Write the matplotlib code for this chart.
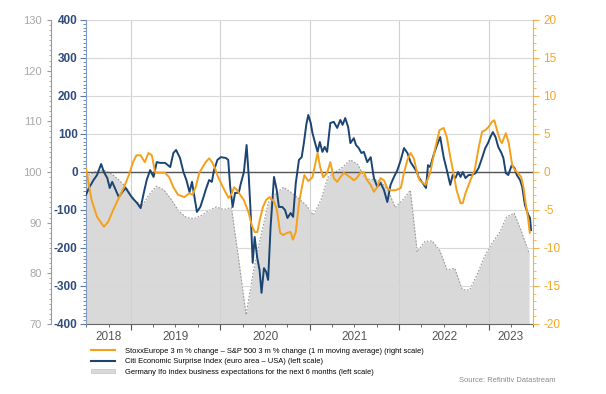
import matplotlib
matplotlib.use('Agg')
import numpy as np
import pandas as pd
import matplotlib.pyplot as plt
import matplotlib.dates as mdates
from matplotlib.lines import Line2D
from matplotlib.patches import Patch
from matplotlib.ticker import MultipleLocator

plt.rcParams['font.family'] = ['Liberation Sans', 'DejaVu Sans']
plt.rcParams['axes.unicode_minus'] = False

# Germany Ifo business expectations, monthly (outer left scale)
ifo_dates = pd.date_range('2018-06-01', '2023-06-01', freq='MS') + pd.Timedelta(days=14)
ifo_values = [98.9, 99.5, 100.2, 100.3, 99.6, 98.3, 96.8,
              94.5, 93.3, 95.5, 97.2, 96.5, 94.5, 92.3, 91.0, 90.8, 91.4, 92.4, 93.1,
              92.6, 93.0, 83.0, 71.8, 80.5, 87.5, 94.0, 95.8, 97.0, 96.0, 94.8, 93.5,
              91.5, 94.5, 99.0, 100.0, 101.0, 102.4, 101.5, 98.7, 98.5, 98.3, 96.5, 93.0,
              94.5, 96.4, 84.2, 86.3, 86.4, 84.5, 80.7, 81.0, 76.8, 76.7, 79.8, 83.3,
              86.0, 88.1, 91.1, 91.9, 88.2, 84.0]

# Citi Economic Surprise Index, euro area minus USA (left scale)
cesi_dates = ['2018-07-01', '2018-07-13', '2018-08-01', '2018-08-15', '2018-09-01', '2018-09-12',
              '2018-09-26', '2018-10-06', '2018-10-16', '2018-10-30', '2018-11-12', '2018-11-26',
              '2018-12-10', '2018-12-23', '2019-01-06', '2019-01-26', '2019-02-09', '2019-02-22',
              '2019-03-06', '2019-03-20', '2019-04-03', '2019-04-16', '2019-04-30', '2019-05-20',
              '2019-06-10', '2019-06-23', '2019-07-04', '2019-07-20', '2019-08-03', '2019-08-15',
              '2019-08-28', '2019-09-07', '2019-09-27', '2019-10-11', '2019-10-24', '2019-11-02',
              '2019-11-16', '2019-11-27', '2019-12-06', '2019-12-20', '2020-01-03', '2020-01-23',
              '2020-02-02', '2020-02-10', '2020-02-20', '2020-03-01', '2020-03-16', '2020-03-23',
              '2020-04-06', '2020-04-17', '2020-04-26', '2020-05-03', '2020-05-12', '2020-05-20',
              '2020-05-30', '2020-06-09', '2020-06-17', '2020-06-27', '2020-07-06', '2020-07-14',
              '2020-07-24', '2020-08-07', '2020-08-18', '2020-08-27', '2020-09-10', '2020-09-21',
              '2020-10-01', '2020-10-14', '2020-10-24', '2020-11-04', '2020-11-17', '2020-11-28',
              '2020-12-07', '2020-12-17', '2020-12-25', '2021-01-04', '2021-01-11', '2021-01-22',
              '2021-02-01', '2021-02-10', '2021-02-21', '2021-03-02', '2021-03-12', '2021-03-25',
              '2021-04-08', '2021-04-22', '2021-05-05', '2021-05-14', '2021-05-25', '2021-06-06',
              '2021-06-15', '2021-06-29', '2021-07-08', '2021-07-19', '2021-07-30', '2021-08-09',
              '2021-08-23', '2021-09-06', '2021-09-19', '2021-10-03', '2021-10-16', '2021-10-30',
              '2021-11-13', '2021-11-26', '2021-12-10', '2021-12-24', '2022-01-07', '2022-01-20',
              '2022-02-03', '2022-02-16', '2022-03-01', '2022-03-14', '2022-03-20', '2022-04-03',
              '2022-04-20', '2022-04-28', '2022-05-07', '2022-05-21', '2022-06-04', '2022-06-17',
              '2022-07-01', '2022-07-14', '2022-07-28', '2022-08-07', '2022-08-18', '2022-08-29',
              '2022-09-08', '2022-09-17', '2022-09-28', '2022-10-11', '2022-10-25', '2022-11-08',
              '2022-11-21', '2022-12-05', '2022-12-18', '2022-12-29', '2023-01-08', '2023-01-18',
              '2023-01-29', '2023-02-09', '2023-02-22', '2023-03-02', '2023-03-12', '2023-03-22',
              '2023-04-05', '2023-04-16', '2023-04-26', '2023-05-09', '2023-05-18', '2023-05-29',
              '2023-06-12', '2023-06-19', '2023-06-23']
cesi_values = [-60, -42, -21, -8, 21, 0, -16, -42, -26, -47, -66, -53,
               -42, -55, -68, -82, -95, -55, -21, 5, -13, 26, 24, 24,
               13, 50, 58, 37, 0, -21, -53, -26, -105, -92, -66, -47,
               -21, -26, 5, 32, 39, 37, 32, -39, -92, -55, -55, -34,
               0, 71, -13, -100, -239, -171, -224, -258, -318, -253, -263, -284,
               -145, -13, -47, -92, -92, -100, -121, -108, -118, -29, 32, 39,
               76, 125, 150, 129, 103, 76, 53, 79, 53, 66, 53, 129,
               132, 116, 137, 124, 142, 118, 76, 89, 71, 63, 50, 53,
               26, 39, -16, -39, -29, -47, -79, -34, -13, 5, 32, 63,
               50, 26, 13, 0, -13, -26, -42, 18, 13, 45, 71, 92,
               39, 5, -34, -8, -16, 0, -13, 0, -16, -8, -8, -3,
               11, 37, 63, 76, 92, 105, 92, 66, 50, 37, -3, -8,
               18, 11, -8, -21, -39, -87, -113, -121, -153]

# StoxxEurope 3m % change minus S&P 500 3m % change, 1m moving average (right scale)
stoxx_dates = ['2018-07-01', '2018-07-11', '2018-07-24', '2018-08-15', '2018-09-12', '2018-09-29',
               '2018-10-20', '2018-11-12', '2018-12-02', '2018-12-23', '2019-01-09', '2019-01-23',
               '2019-02-09', '2019-02-26', '2019-03-13', '2019-03-27', '2019-04-09', '2019-04-23',
               '2019-05-20', '2019-06-06', '2019-06-23', '2019-07-12', '2019-08-07', '2019-08-27',
               '2019-09-09', '2019-09-22', '2019-10-07', '2019-11-02', '2019-11-16', '2019-11-28',
               '2019-12-10', '2019-12-23', '2020-01-13', '2020-02-03', '2020-02-14', '2020-02-26',
               '2020-03-09', '2020-04-06', '2020-04-26', '2020-05-08', '2020-05-20', '2020-05-31',
               '2020-06-10', '2020-06-22', '2020-07-05', '2020-07-20', '2020-08-07', '2020-08-19',
               '2020-09-01', '2020-09-13', '2020-09-30', '2020-10-14', '2020-10-23', '2020-11-04',
               '2020-11-17', '2020-11-29', '2020-12-09', '2020-12-25', '2021-01-11', '2021-02-01',
               '2021-02-11', '2021-02-24', '2021-03-12', '2021-03-25', '2021-04-08', '2021-04-22',
               '2021-05-05', '2021-05-19', '2021-06-01', '2021-06-15', '2021-06-29', '2021-07-11',
               '2021-07-26', '2021-08-09', '2021-08-23', '2021-09-06', '2021-09-19', '2021-10-03',
               '2021-10-16', '2021-10-30', '2021-11-13', '2021-11-26', '2021-12-17', '2022-01-07',
               '2022-01-20', '2022-02-03', '2022-02-16', '2022-03-01', '2022-03-14', '2022-03-25',
               '2022-04-18', '2022-05-07', '2022-05-28', '2022-06-14', '2022-07-01', '2022-07-14',
               '2022-07-28', '2022-08-10', '2022-08-23', '2022-09-08', '2022-09-17', '2022-09-28',
               '2022-10-18', '2022-11-05', '2022-11-21', '2022-12-05', '2022-12-18', '2022-12-31',
               '2023-01-14', '2023-01-24', '2023-02-04', '2023-02-16', '2023-02-24', '2023-03-12',
               '2023-03-24', '2023-04-07', '2023-04-17', '2023-04-30', '2023-05-14', '2023-05-23',
               '2023-06-01', '2023-06-10', '2023-06-18']
stoxx_values = [0.5, -1.4, -3.7, -5.9, -7.2, -6.6, -5.0, -3.4, -2.1, -0.4, 1.3, 2.2,
                2.2, 1.3, 2.5, 2.2, 0.0, -0.1, -0.1, -0.7, -2.0, -3.0, -3.3, -2.8,
                -3.0, -2.0, -0.1, 1.3, 1.8, 1.3, 0.5, -0.7, -2.1, -3.4, -3.0, -2.0,
                -2.4, -3.7, -5.4, -7.0, -7.9, -7.9, -6.3, -4.7, -3.7, -3.3, -3.9, -5.0,
                -8.0, -8.3, -8.0, -7.9, -8.9, -7.9, -4.1, -2.0, -0.4, -1.2, -0.7, 2.5,
                0.7, -0.7, -0.1, 1.3, -0.8, -1.3, -0.7, -0.1, -0.4, -0.7, -1.1, -0.8,
                -0.1, 0.0, -1.1, -1.7, -2.6, -2.0, -0.8, -1.1, -2.1, -2.4, -2.4, -2.1,
                -0.1, 1.6, 2.5, 1.8, 0.0, -1.1, -1.7, -0.1, 3.2, 5.5, 5.8, 4.6,
                2.0, -0.1, -2.4, -4.1, -4.1, -2.8, -1.1, 0.3, 3.2, 5.3, 5.5, 5.9,
                6.6, 6.8, 5.5, 4.2, 3.8, 5.1, 3.8, 0.9, 0.3, -0.1, -0.7, -2.0,
                -4.1, -5.9, -8.0]

years = [2018, 2019, 2020, 2021, 2022, 2023]
x_start = pd.Timestamp('2018-07-01')
x_end = pd.Timestamp('2023-07-01')

blue = '#1b4472'
orange = '#f4a01c'
grey_fill = '#d9d9d9'

fig = plt.figure(figsize=(6.06, 3.94), dpi=100)
ax_ifo = fig.add_axes([86 / 606, 70 / 394, 447 / 606, 304 / 394])
ax_cesi = ax_ifo.twinx()
ax_stoxx = ax_ifo.twinx()

# Ifo area (bottom layer)
ax_ifo.fill_between(pd.to_datetime(ifo_dates), ifo_values, 70, color=grey_fill, lw=0, zorder=1)
ax_ifo.plot(pd.to_datetime(ifo_dates), ifo_values, color='#9a9a9a', lw=0.8, ls=(0, (1.5, 1.5)), zorder=1.5)
ax_ifo.set_ylim(70, 130)
ax_ifo.set_xlim(x_start, x_end)
ax_ifo.set_axisbelow(False)
ax_ifo.xaxis.set_major_locator(mdates.YearLocator())
ax_ifo.xaxis.set_minor_locator(mdates.MonthLocator(bymonth=[4, 7, 10]))
ax_ifo.xaxis.set_major_formatter(plt.NullFormatter())
ax_ifo.grid(axis='x', which='major', color='#d0d0d0', lw=0.8, zorder=2)
ax_ifo.tick_params(axis='x', which='major', length=4, color='#555555')
ax_ifo.tick_params(axis='x', which='minor', length=2, color='#555555')
ax_ifo.spines['bottom'].set_color('#666666')
ax_ifo.spines['left'].set_position(('axes', -35 / 447))
ax_ifo.spines['left'].set_color('#9a9a9a')
ax_ifo.spines['top'].set_visible(False)
ax_ifo.spines['right'].set_visible(False)
ax_ifo.yaxis.set_major_locator(MultipleLocator(10))
ax_ifo.yaxis.set_minor_locator(MultipleLocator(1))
ax_ifo.tick_params(axis='y', which='major', length=3, color='#9a9a9a', labelcolor='#a8a8a8', labelsize=8)
ax_ifo.tick_params(axis='y', which='minor', length=1.5, color='#9a9a9a')

# year labels centred on the visible part of each year
for yr in years:
    a = max(pd.Timestamp(f'{yr}-01-01'), x_start)
    b = min(pd.Timestamp(f'{yr + 1}-01-01'), x_end)
    ax_ifo.text(a + (b - a) / 2, -0.022, str(yr), transform=ax_ifo.get_xaxis_transform(),
                ha='center', va='top', fontsize=8.5, color='#555555')

# CESI line (left scale)
ax_cesi.set_ylim(-400, 400)
ax_cesi.yaxis.tick_left()
ax_cesi.yaxis.set_major_locator(MultipleLocator(100))
ax_cesi.yaxis.set_minor_locator(MultipleLocator(10))
ax_cesi.grid(axis='y', which='major', color='#d8d8d8', lw=0.8)
ax_cesi.axhline(0, color='#555555', lw=1.0, zorder=2)
ax_cesi.plot(pd.to_datetime(cesi_dates), cesi_values, color=blue, lw=1.4, zorder=3)
for s in ['top', 'right', 'bottom']:
    ax_cesi.spines[s].set_visible(False)
ax_cesi.spines['left'].set_color('#7f9cc4')
ax_cesi.tick_params(axis='y', which='major', length=4, color='#5a7aaa', labelcolor='#2f4c7d',
                    labelsize=8.5, pad=2)
ax_cesi.tick_params(axis='y', which='minor', length=2, color='#5a7aaa')
for lab in ax_cesi.get_yticklabels():
    lab.set_fontweight('bold')

# Stoxx relative performance (right scale)
ax_stoxx.set_ylim(-20, 20)
ax_stoxx.plot(pd.to_datetime(stoxx_dates), stoxx_values, color=orange, lw=1.4, zorder=4)
ax_stoxx.yaxis.set_major_locator(MultipleLocator(5))
ax_stoxx.yaxis.set_minor_locator(MultipleLocator(1))
for s in ['top', 'left', 'bottom']:
    ax_stoxx.spines[s].set_visible(False)
ax_stoxx.spines['right'].set_color('#f5b041')
ax_stoxx.tick_params(axis='y', which='major', length=4, color='#f5b041', labelcolor='#f5a623', labelsize=8.5)
ax_stoxx.tick_params(axis='y', which='minor', length=2, color='#f5b041')

handles = [Line2D([], [], color=orange, lw=1.5),
           Line2D([], [], color=blue, lw=1.5),
           Patch(facecolor=grey_fill, edgecolor='#c0c0c0', lw=0.5)]
labels = ['StoxxEurope 3 m % change \u2013 S&P 500 3 m % change (1 m moving average) (right scale)',
          'Citi Economic Surprise Index (euro area \u2013 USA) (left scale)',
          'Germany Ifo index business expectations for the next 6 months (left scale)']
fig.legend(handles, labels, loc='upper left', bbox_to_anchor=(84 / 606, 1 - 341 / 394),
           frameon=False, handlelength=3.2, handleheight=0.6, labelspacing=0.45, handletextpad=1.3,
           prop={'size': 5.4})

fig.text(555 / 606, 1 - 381 / 394, 'Source: Refinitiv Datastream', ha='right', va='center',
         fontsize=5.4, color='#888888')

fig.savefig('out.png', dpi=100)
